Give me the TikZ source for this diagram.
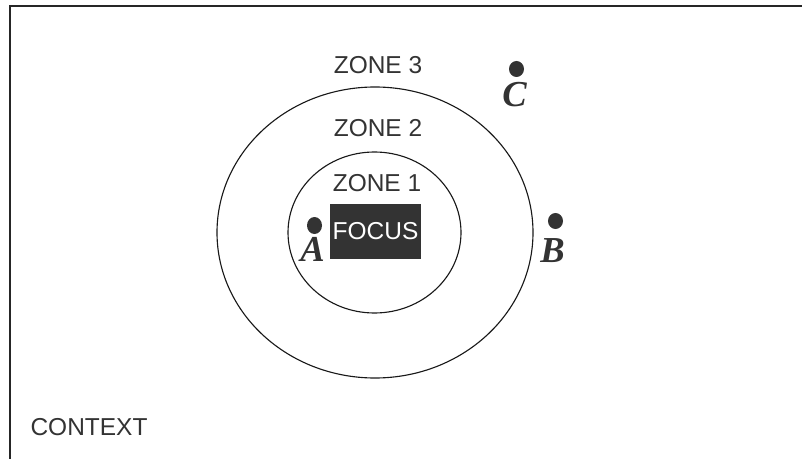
\documentclass[tikz,border=0pt]{standalone}
\usepackage{fontspec}
\setmainfont{Liberation Sans}
\newfontfamily\labelfont{Liberation Serif}
\definecolor{inkgray}{HTML}{333333}
\begin{document}
\begin{tikzpicture}[x=0.025cm, y=-0.025cm,
    zonetext/.style={text=inkgray, font=\fontsize{17.4}{20}\selectfont, inner sep=0pt},
    pointlabel/.style={text=inkgray, font=\labelfont\bfseries\itshape\fontsize{26}{28}\selectfont, inner sep=0pt},
    pointdot/.style={fill=inkgray, draw=none},
    ring/.style={draw=black!90, line width=0.8pt}]
  \useasboundingbox (0,0) rectangle (802,459);

  % Cornice del contesto
  \draw[black!85, line width=1.4pt] (10,459) -- (10,6) -- (802,6);
  \node[zonetext] (context) at (89,427.5) {CONTEXT};

  % Zone concentriche
  \draw[ring] (375,232.5) ellipse [x radius=158, y radius=145.5];
  \draw[ring] (374.5,232.5) ellipse [x radius=86.5, y radius=80.5];
  \node[zonetext] (zonethree) at (378,65) {ZONE 3};
  \node[zonetext] (zonetwo) at (378,128) {ZONE 2};
  \node[zonetext] (zoneone) at (377,183) {ZONE 1};

  % Fuoco
  \node[fill=inkgray, minimum width=91*0.025cm, minimum height=55*0.025cm,
        inner sep=0pt, text=white, font=\fontsize{17.4}{20}\selectfont]
        (focus) at (375.5,231.5) {FOCUS};

  % Punti A, B, C
  \fill[pointdot] (314.5,225.5) ellipse [x radius=7.5, y radius=8.5];
  \node[pointlabel] (labelA) at (312.5,249.5) {A};
  \fill[pointdot] (555.5,221) ellipse [x radius=7.5, y radius=8];
  \node[pointlabel] (labelB) at (552.5,250.5) {B};
  \fill[pointdot] (516.5,69) ellipse [x radius=7.5, y radius=8];
  \node[pointlabel] (labelC) at (514.5,95) {C};
\end{tikzpicture}
\end{document}
